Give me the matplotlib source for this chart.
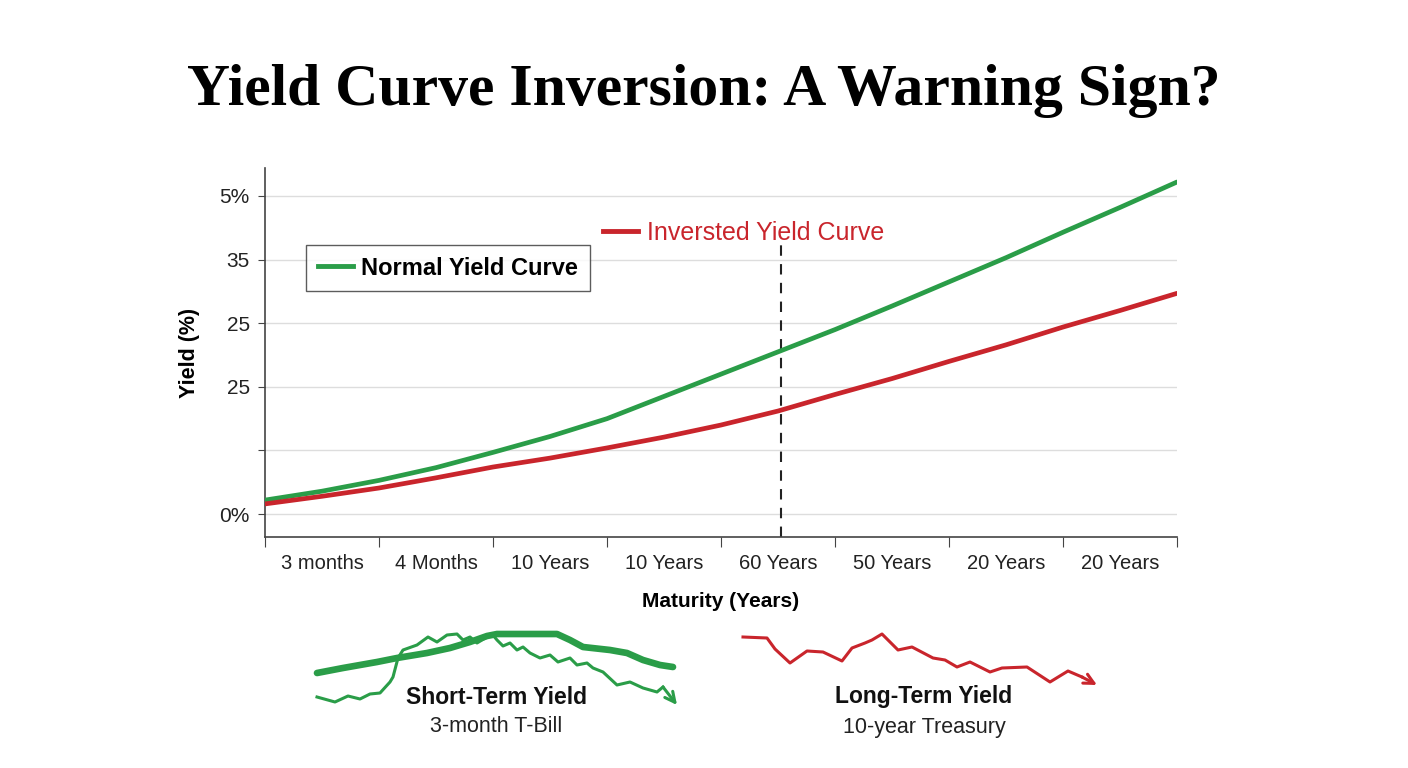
import matplotlib
matplotlib.use("Agg")
import matplotlib.pyplot as plt
from matplotlib.lines import Line2D

# main chart data (x = position along the category axis)
x_pos = [0, 0.5, 1, 1.5, 2, 2.5, 3, 3.5, 4, 4.5, 5, 5.5, 6, 6.5, 7, 7.5, 8]
normal_yield = [0.22, 0.36, 0.53, 0.73, 0.97, 1.22, 1.50, 1.85, 2.20, 2.55,
                2.90, 3.27, 3.65, 4.03, 4.43, 4.82, 5.22]
inverted_yield = [0.16, 0.28, 0.41, 0.57, 0.74, 0.88, 1.04, 1.21, 1.40, 1.62,
                  1.88, 2.13, 2.40, 2.66, 2.94, 3.20, 3.47]
maturity_labels = ["3 months", "4 Months", "10 Years", "10 Years",
                   "60 Years", "50 Years", "20 Years", "20 Years"]
ytick_vals = [0, 1, 2, 3, 4, 5]
ytick_labels = ["0%", "", "25", "25", "35", "5%"]
inversion_x = 4.53
inversion_top = 4.23

# sparklines (pixel-like units of the small panel)
short_smooth_x = [317, 343, 377, 397, 427, 450, 470, 487, 497, 557, 570, 583, 610, 627, 643, 660, 673]
short_smooth_y = [673, 668, 662, 658, 653, 648, 642, 636, 634, 634, 640, 647, 650, 653, 660, 665, 667]
short_jag_x = [317, 335, 348, 360, 370, 380, 390, 393, 398, 403, 417, 428, 437, 447, 457, 463, 470,
               477, 492, 497, 503, 510, 517, 523, 530, 540, 550, 558, 570, 577, 587, 593, 603,
               617, 630, 643, 657, 663, 677]
short_jag_y = [697, 702, 696, 699, 694, 693, 682, 677, 658, 650, 645, 637, 642, 635, 634, 640, 637,
               643, 634, 640, 646, 643, 650, 647, 653, 658, 655, 662, 658, 665, 663, 668, 672,
               685, 682, 688, 692, 687, 705]
long_x = [743, 767, 775, 790, 807, 823, 842, 852, 865, 872, 882, 898, 912, 933, 945, 957,
          970, 990, 1002, 1027, 1050, 1068, 1082, 1097]
long_y = [637, 638, 649, 663, 651, 652, 661, 648, 643, 640, 634, 650, 647, 658, 660, 667,
          662, 672, 668, 667, 682, 671, 677, 685]

GREEN = "#2a9d48"
RED = "#c9252c"
W, H = 1408, 768

plt.rcParams["font.family"] = ["Liberation Sans", "DejaVu Sans"]
fig = plt.figure(figsize=(W / 100, H / 100), dpi=100)
fig.patch.set_facecolor("white")

fig.text(0.5, 1 - 91 / H, "Yield Curve Inversion: A Warning Sign?",
         ha="center", va="center", fontsize=43, fontweight="bold",
         family=["Liberation Serif", "DejaVu Serif"])

ax = fig.add_axes([265 / W, 1 - 537 / H, 912 / W, 369 / H])
ax.plot(x_pos, normal_yield, color=GREEN, lw=3.4, solid_capstyle="round",
        solid_joinstyle="round", zorder=3)
ax.plot(x_pos, inverted_yield, color=RED, lw=3.4, solid_capstyle="round",
        solid_joinstyle="round", zorder=3)
ax.vlines(inversion_x, -0.36, inversion_top, colors="#222222", linestyles=(0, (5, 4)), lw=1.5, zorder=2)

ax.set_xlim(0, 8)
ax.set_ylim(-0.36, 5.44)
ax.set_yticks(ytick_vals)
ax.set_yticklabels(ytick_labels, fontsize=15, color="#222222")
ax.set_xticks(range(0, 9))
ax.set_xticklabels([])
ax.set_xticks([i + 0.5 for i in range(8)], minor=True)
ax.set_xticklabels(maturity_labels, minor=True, fontsize=14.5, color="#222222")
ax.tick_params(axis="x", which="minor", length=0, pad=12)
ax.tick_params(axis="x", which="major", length=7, color="#444444")
ax.tick_params(axis="y", length=5, color="#444444", pad=6)
ax.grid(axis="y", color="#dddddd", lw=1)
ax.set_axisbelow(True)
for side in ["top", "right"]:
    ax.spines[side].set_visible(False)
for side in ["left", "bottom"]:
    ax.spines[side].set_color("#444444")
    ax.spines[side].set_linewidth(1.2)

ax.set_ylabel("Yield (%)", fontsize=15.5, fontweight="bold", labelpad=14)
ax.set_xlabel("Maturity (Years)", fontsize=15, fontweight="bold", labelpad=14)

leg1 = ax.legend([Line2D([], [], color=GREEN, lw=3.5)], ["Normal Yield Curve"],
                 loc="upper left", bbox_to_anchor=(0.032, 0.824), frameon=True, fancybox=False,
                 edgecolor="#333333", handlelength=1.5, handletextpad=0.35, borderpad=0.5,
                 prop={"size": 17, "weight": "bold"})
leg1.get_frame().set_linewidth(1.0)
ax.add_artist(leg1)
ax.legend([Line2D([], [], color=RED, lw=3.5)], ["Inversted Yield Curve"],
          loc="upper left", bbox_to_anchor=(0.346, 0.918), frameon=False,
          handlelength=1.4, handletextpad=0.35, labelcolor=RED,
          prop={"size": 18})

# sparkline panel
sp = fig.add_axes([0, 0, 1, 1], zorder=-1)
sp.set_xlim(0, W)
sp.set_ylim(H, 0)
sp.axis("off")
sp.plot(short_smooth_x, short_smooth_y, color=GREEN, lw=4.8, solid_capstyle="round",
        solid_joinstyle="round")
sp.plot(short_jag_x[:-1], short_jag_y[:-1], color=GREEN, lw=2.2)
sp.annotate("", xy=(short_jag_x[-1], short_jag_y[-1]), xytext=(short_jag_x[-2], short_jag_y[-2]),
            arrowprops=dict(arrowstyle="->", color=GREEN, lw=2.2, mutation_scale=18,
                            shrinkA=0, shrinkB=0))
sp.plot(long_x[:-1], long_y[:-1], color=RED, lw=2.2)
sp.annotate("", xy=(long_x[-1], long_y[-1]), xytext=(long_x[-2], long_y[-2]),
            arrowprops=dict(arrowstyle="->", color=RED, lw=2.2, mutation_scale=18,
                            shrinkA=0, shrinkB=0))

fig.text(497 / W, 1 - 697 / H, "Short-Term Yield", ha="center", va="center",
         fontsize=16.5, fontweight="bold", color="#111111")
fig.text(496 / W, 1 - 727 / H, "3-month T-Bill", ha="center", va="center",
         fontsize=15.5, color="#222222")
fig.text(924 / W, 1 - 697 / H, "Long-Term Yield", ha="center", va="center",
         fontsize=16.5, fontweight="bold", color="#111111")
fig.text(924 / W, 1 - 727 / H, "10-year Treasury", ha="center", va="center",
         fontsize=15.5, color="#222222")

fig.savefig("out.png", dpi=100, facecolor="white")
